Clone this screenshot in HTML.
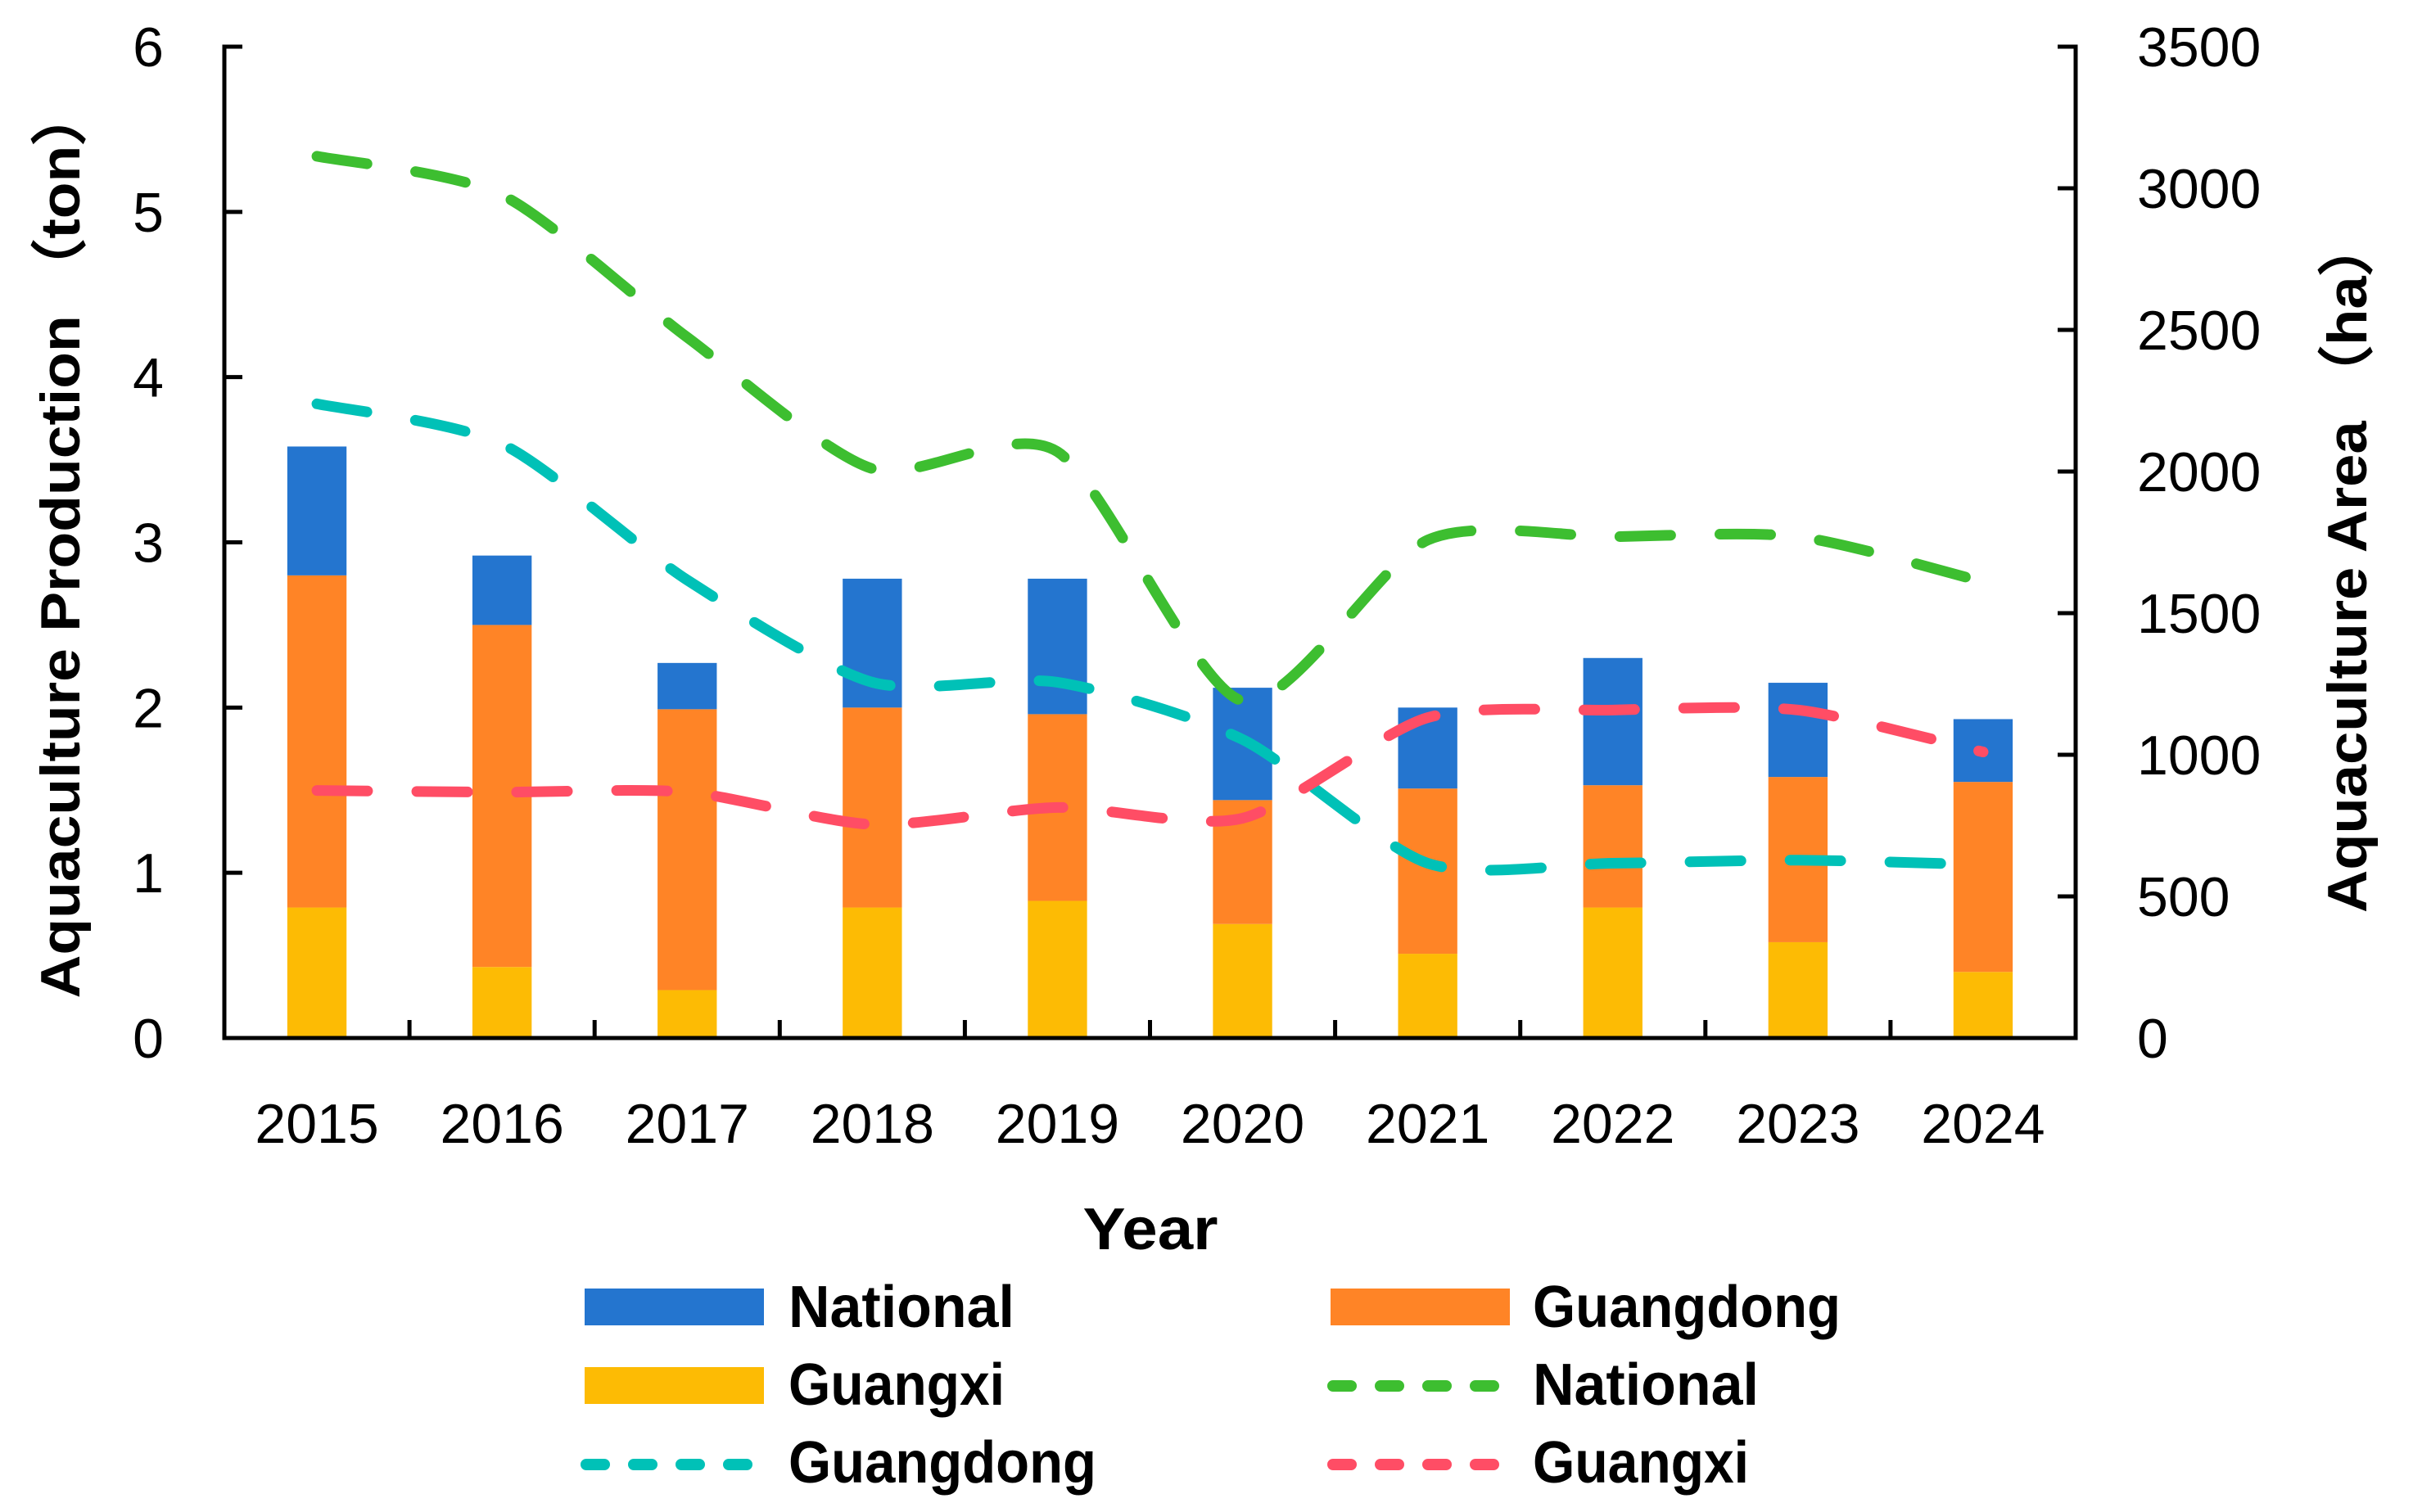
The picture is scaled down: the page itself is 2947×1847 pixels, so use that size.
<!DOCTYPE html>
<html><head><meta charset="utf-8"><style>
html,body{margin:0;padding:0;background:#fff;}
svg{display:block;font-family:"Liberation Sans",sans-serif;}
</style></head><body>
<svg id="chart" width="2947" height="1847" viewBox="0 0 2947 1847" xmlns="http://www.w3.org/2000/svg">
<rect width="2947" height="1847" fill="#fff"/>
<g id="bars"></g>
<g id="lines"></g>
<g id="axes"></g>
<text transform="translate(97,662) rotate(-90)" text-anchor="middle" font-size="68" font-weight="bold" textLength="1115" lengthAdjust="spacingAndGlyphs">Aquaculture Production （ton）</text>
<text transform="translate(2890,690) rotate(-90)" text-anchor="middle" font-size="68" font-weight="bold" textLength="850" lengthAdjust="spacingAndGlyphs">Aquaculture Area （ha）</text>
<text x="1405" y="1526" text-anchor="middle" font-size="72" font-weight="bold" textLength="165" lengthAdjust="spacingAndGlyphs">Year</text>
<g>
  <g>
    <rect x="714" y="1574" width="219" height="45" fill="#2475CF"/>
    <text x="963" y="1621" font-size="72" font-weight="bold" textLength="276" lengthAdjust="spacingAndGlyphs">National</text>
  </g>
  <g>
    <rect x="1625" y="1574" width="219" height="45" fill="#FF8426"/>
    <text x="1872" y="1621" font-size="72" font-weight="bold" textLength="376" lengthAdjust="spacingAndGlyphs">Guangdong</text>
  </g>
  <g>
    <rect x="714" y="1670" width="219" height="45" fill="#FDBB04"/>
    <text x="963" y="1716" font-size="72" font-weight="bold" textLength="264" lengthAdjust="spacingAndGlyphs">Guangxi</text>
  </g>
  <g>
    <line x1="1628" y1="1693" x2="1840" y2="1693" stroke="#3DBE30" stroke-width="14" stroke-linecap="round" stroke-dasharray="22,36"/>
    <text x="1872" y="1716" font-size="72" font-weight="bold" textLength="276" lengthAdjust="spacingAndGlyphs">National</text>
  </g>
  <g>
    <line x1="716" y1="1789" x2="928" y2="1789" stroke="#00C1B7" stroke-width="14" stroke-linecap="round" stroke-dasharray="22,36"/>
    <text x="963" y="1811" font-size="72" font-weight="bold" textLength="376" lengthAdjust="spacingAndGlyphs">Guangdong</text>
  </g>
  <g>
    <line x1="1628" y1="1789" x2="1840" y2="1789" stroke="#FF4D65" stroke-width="14" stroke-linecap="round" stroke-dasharray="22,36"/>
    <text x="1872" y="1811" font-size="72" font-weight="bold" textLength="264" lengthAdjust="spacingAndGlyphs">Guangxi</text>
  </g>
</g>
</svg>
<script>
const years = ["2015","2016","2017","2018","2019","2020","2021","2022","2023","2024"];
const prodGuangxi = [0.79,0.43,0.29,0.79,0.83,0.69,0.51,0.79,0.58,0.40];
const prodGuangdong = [2.01,2.07,1.70,1.21,1.13,0.75,1.00,0.74,1.00,1.15];
const prodNational = [0.78,0.42,0.28,0.78,0.82,0.68,0.49,0.77,0.57,0.38];
const areaNational = [3113,2976,2474,2010,2070,1190,1758,1770,1770,1611];
const areaGuangdong = [2239,2097,1617,1256,1256,1054,617,617,628,612];
const areaGuangxi = [874,868,868,754,814,776,1131,1158,1158,1010];
const leftTicks = [0,1,2,3,4,5,6];
const rightTicks = [0,500,1000,1500,2000,2500,3000,3500];

const NS="http://www.w3.org/2000/svg";
const X0=274, X1=2535, Y0=1268, Y1=57;
const band=(X1-X0)/years.length;
const xC=i=>X0+band*(i+0.5);
const yL=v=>Y0-(v/6)*(Y0-Y1);
const yR=v=>Y0-(v/3500)*(Y0-Y1);
function mk(tag,attrs,parent){const e=document.createElementNS(NS,tag);for(const k in attrs)e.setAttribute(k,attrs[k]);parent.appendChild(e);return e;}

const bars=document.getElementById('bars');
const bw=band*0.32;
years.forEach((y,i)=>{
  const segs=[[prodGuangxi[i],'#FDBB04','guangxi'],[prodGuangdong[i],'#FF8426','guangdong'],[prodNational[i],'#2475CF','national']];
  let base=0;
  segs.forEach(s=>{
    const r=mk('rect',{x:xC(i)-bw/2,y:yL(base+s[0]),width:bw,height:yL(base)-yL(base+s[0]),fill:s[1]},bars);
    
    
    base+=s[0];
  });
});

function smoothPath(pts){
  let d='M'+pts[0][0]+','+pts[0][1];
  for(let i=0;i<pts.length-1;i++){
    const p0=pts[i-1]||pts[i],p1=pts[i],p2=pts[i+1],p3=pts[i+2]||p2;
    const t=1/8;
    const c1=[p1[0]+(p2[0]-p0[0])*t,p1[1]+(p2[1]-p0[1])*t];
    const c2=[p2[0]-(p3[0]-p1[0])*t,p2[1]-(p3[1]-p1[1])*t];
    d+=' C'+c1+' '+c2+' '+p2;
  }
  return d;
}
const lines=document.getElementById('lines');
[[areaNational,'#3DBE30','national'],[areaGuangdong,'#00C1B7','guangdong'],[areaGuangxi,'#FF4D65','guangxi']].forEach(s=>{
  const pts=s[0].map((v,i)=>[xC(i),yR(v)]);
  const p=mk('path',{d:smoothPath(pts),fill:'none',stroke:s[1],'stroke-width':13,'stroke-linecap':'round','stroke-dasharray':'62,60'},lines);
  
  
});

const axes=document.getElementById('axes');
const al=mk('path',{d:`M${X0+22},${Y1}H${X0}V${Y0}H${X1}V${Y1}H${X1-22}`,fill:'none',stroke:'#000','stroke-width':5},axes);


leftTicks.forEach(v=>{
  mk('line',{x1:X0,x2:X0+22,y1:yL(v),y2:yL(v),stroke:'#000','stroke-width':5},axes);
  const t=mk('text',{x:200,y:yL(v)+24,'text-anchor':'end','font-size':68},axes);
  t.textContent=v;
  
  
});
rightTicks.forEach(v=>{
  mk('line',{x1:X1,x2:X1-22,y1:yR(v),y2:yR(v),stroke:'#000','stroke-width':5},axes);
  const t=mk('text',{x:2610,y:yR(v)+24,'text-anchor':'start','font-size':68},axes);
  t.textContent=v;
  
  
});
years.forEach((y,i)=>{
  if(i>0) mk('line',{x1:X0+band*i,x2:X0+band*i,y1:Y0,y2:Y0-22,stroke:'#000','stroke-width':5},axes);
  const t=mk('text',{x:xC(i),y:1396,'text-anchor':'middle','font-size':68},axes);
  t.textContent=y;
  
  
});
</script>
</body></html>
